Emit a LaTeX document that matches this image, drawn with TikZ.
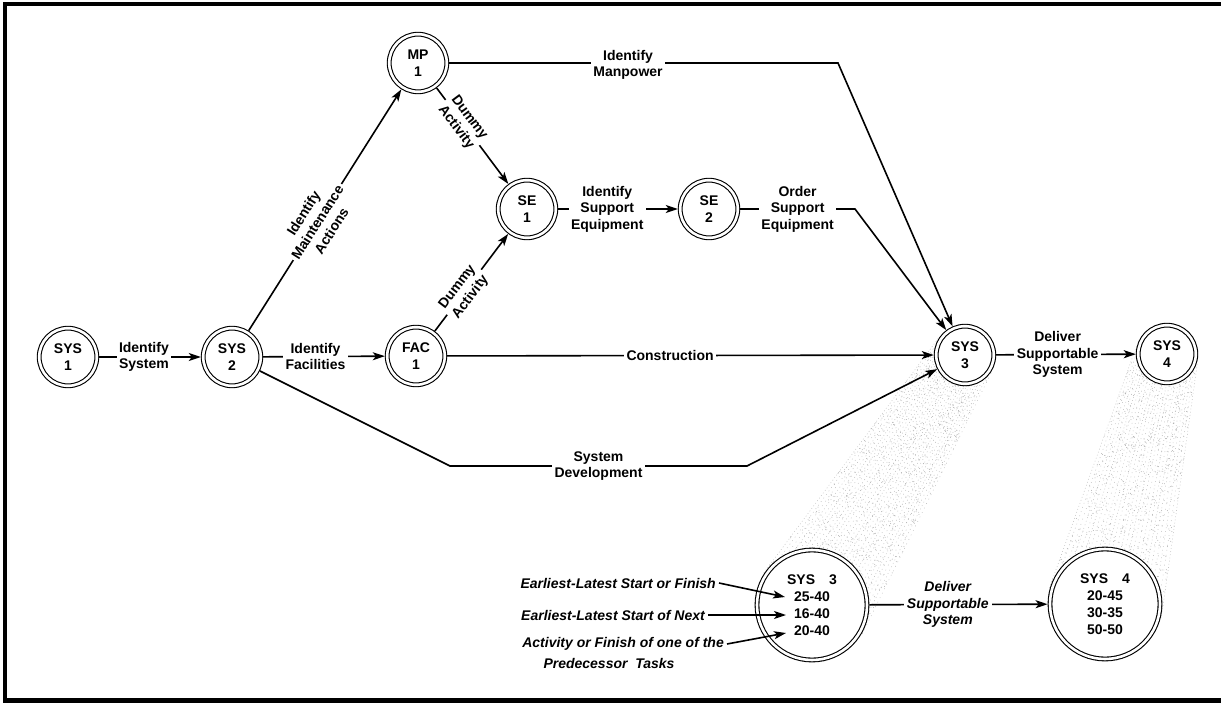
\documentclass[tikz,border=0pt]{standalone}
\usepackage{fontspec}
\setmainfont{Liberation Sans}
\usetikzlibrary{arrows.meta,calc}

\begin{document}
\begin{tikzpicture}[x=1pt,y=-1pt,
  every node/.style={font=\fontsize{14}{16.5}\selectfont\bfseries},
  event/.style={circle, draw, double, double distance=2.6pt, line width=1.1pt,
    fill=white, minimum size=57.6pt, inner sep=0pt, align=center, outer sep=2.4pt},
  bigevent/.style={event, minimum size=110pt, font=\fontsize{14}{17}\selectfont\bfseries},
  act/.style={line width=1.6pt, -{Stealth[length=12pt,width=8pt,inset=3pt]}},
  tag/.style={fill=white, inner sep=2.5pt, align=center},
  note/.style={font=\fontsize{14}{16.5}\selectfont\bfseries\itshape, inner sep=3pt, align=center},
  streak/.style={gray!55, line width=0.5pt},
  speck/.style={gray!60}
]
\useasboundingbox (0,0) rectangle (1221,703);

% frame (open on the right)
\draw[line width=4.5pt] (1240,4) -- (5,4) -- (5,700.5) -- (1240,700.5);

% stippled cones that enlarge SYS 3 and SYS 4:
% faint streaks running from the small circle to the big one ...
\foreach \k in {0,...,29} {
  \pgfmathsetmacro\t{-1+\k/14.5}
  \pgfmathsetmacro\gap{2.4+0.6*mod(\k*7,5)}
  \pgfmathsetmacro\ph{0.5*mod(\k*37,11)}
  \draw[streak, dash pattern=on 0.8pt off \gap pt, dash phase=\ph pt]
    ({965+26.9*\t},{355+16.4*\t}) -- ({812+49.5*\t},{605+30.3*\t});
}
\foreach \k in {0,...,25} {
  \pgfmathsetmacro\t{-1+\k/12.5}
  \pgfmathsetmacro\gap{2.4+0.6*mod(\k*7,5)}
  \pgfmathsetmacro\ph{0.5*mod(\k*37,11)}
  \draw[streak, dash pattern=on 0.8pt off \gap pt, dash phase=\ph pt]
    ({1167+30.6*\t},{354+7.6*\t}) -- ({1105+56.3*\t},{604+14.0*\t});
}
% ... and scattered specks between them
\pgfmathsetseed{4711}
\foreach \i in {1,...,900} {
  \pgfmathsetmacro\s{rnd}
  \pgfmathsetmacro\t{2*rnd-1}
  \fill[speck] ({965+26.9*\t+\s*(812+49.5*\t-965-26.9*\t)},
                {355+16.4*\t+\s*(605+30.3*\t-355-16.4*\t)}) circle (0.5pt);
}
\foreach \i in {1,...,750} {
  \pgfmathsetmacro\s{rnd}
  \pgfmathsetmacro\t{2*rnd-1}
  \fill[speck] ({1167+30.6*\t+\s*(1105+56.3*\t-1167-30.6*\t)},
                {354+7.6*\t+\s*(604+14.0*\t-354-7.6*\t)}) circle (0.5pt);
}

% events
\node[event] (sys1) at (68,357) {SYS\\1};
\node[event] (sys2) at (232,357) {SYS\\2};
\node[event] (fac1) at (416,356) {FAC\\1};
\node[event] (mp1)  at (418,63)  {MP\\1};
\node[event] (se1)  at (527,209) {SE\\1};
\node[event] (se2)  at (709,209) {SE\\2};
\node[event] (sys3) at (965,355) {SYS\\3};
\node[event] (sys4) at (1167,354) {SYS\\4};
\node[bigevent] (big3) at (812,605) {SYS\quad 3\\25-40\\16-40\\20-40};
\node[bigevent] (big4) at (1105,604) {SYS\quad 4\\20-45\\30-35\\50-50};

% bend points
\coordinate (m1) at (838,63);
\coordinate (o1) at (855,209);
\coordinate (d1) at (450,466);
\coordinate (d2) at (747,466);

% activities
\draw[act] (sys1) -- node[tag, pos=0.44] {Identify\\System} (sys2);
\draw[act] (sys2) -- node[tag, pos=0.43] {Identify\\Facilities} (fac1);
\draw[act] (sys2) -- node[tag, sloped, pos=0.45] {Identify\\Maintenance\\Actions} (mp1);
\draw[act] (mp1) -- node[tag, sloped, pos=0.36] {Dummy\\Activity} (se1);
\draw[act] (fac1) -- node[tag, sloped, pos=0.4] {Dummy\\Activity} (se1);
\draw[act] (se1) -- node[tag, pos=0.41] {Identify\\Support\\Equipment} (se2);
\draw[act] (se2) -- node[tag, pos=0.5] {Order\\Support\\Equipment} (o1) -- (sys3);
\draw[act] (mp1) -- node[tag, pos=0.46, yshift=-2pt] {Identify\\Manpower} (m1) -- (sys3);
\draw[act] (fac1) -- node[tag, pos=0.458] {Construction} (sys3);
\draw[act] (sys2) -- (d1) -- node[tag, pos=0.5] {System\\Development} (d2) -- (sys3);
\draw[act] (sys3) -- node[tag, pos=0.44] {Deliver\\Supportable\\System} (sys4);
\draw[act] (big3) -- node[tag, note, pos=0.44] {Deliver\\Supportable\\System} (big4);

% legend for the enlarged event
\node[note, anchor=east] (n1) at (719,583) {Earliest-Latest Start or Finish};
\node[note, anchor=east] (n2) at (708,615) {Earliest-Latest Start of Next};
\node[note, anchor=east] (n3) at (727,644) {Activity or Finish of one of the};
\node[note] (n4) at (609,663) {Predecessor\ \ Tasks};
\coordinate (t25) at (785,597);
\coordinate (t16) at (786,615);
\coordinate (t20) at (786,633);
\draw[act] (n1.east) -- (t25);
\draw[act] (n2.east) -- (t16);
\draw[act] (n3.east) -- (t20);
\end{tikzpicture}
\end{document}
